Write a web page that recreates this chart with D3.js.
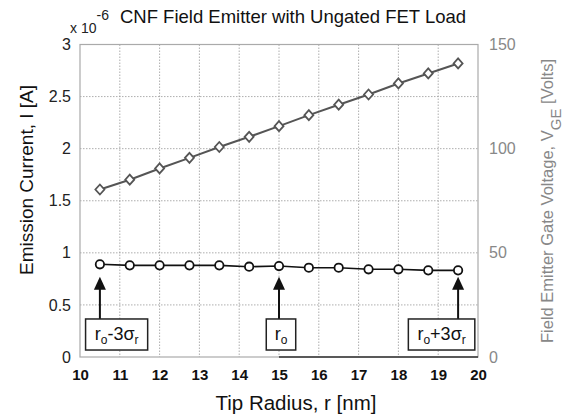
<!DOCTYPE html>
<html>
<head>
<meta charset="utf-8">
<script src="https://cdn.jsdelivr.net/npm/d3@7"></script>
<style>
  body { margin: 0; background: #fff; }
  text { font-family: "Liberation Sans", Arial, sans-serif; }
</style>
</head>
<body>
<div id="chart"></div>
<script>
// tip radius [nm]
var radius = [10.5, 11.25, 12, 12.75, 13.5, 14.25, 15, 15.75, 16.5, 17.25, 18, 18.75, 19.5];
// emission current [x 1e-6 A]
var current = [0.89, 0.88, 0.88, 0.88, 0.88, 0.867, 0.873, 0.857, 0.857, 0.842, 0.842, 0.832, 0.832];
// gate voltage [V]
var voltage = [80.4, 85.1, 90.5, 95.6, 100.8, 105.7, 110.8, 116.1, 121.1, 126, 131.3, 136.1, 140.9];

var xTicks = [10, 11, 12, 13, 14, 15, 16, 17, 18, 19, 20];
var yTicks = [0, 0.5, 1, 1.5, 2, 2.5, 3];
var y2Ticks = [0, 50, 100, 150];

// annotation boxes: arrow at r, box spans [r0, r1]
var notes = [
  { r: 10.5, r0: 10.14, r1: 11.7, parts: [["r", 0], ["o", 1], ["-3", 0], ["\u03c3", 0], ["r", 1]] },
  { r: 15, r0: 14.68, r1: 15.42, parts: [["r", 0], ["o", 1]] },
  { r: 19.5, r0: 18.25, r1: 19.92, parts: [["r", 0], ["o", 1], ["+3", 0], ["\u03c3", 0], ["r", 1]] }
];

var W = 569, H = 417;
var margin = { top: 44.5, right: 91, bottom: 60, left: 80 };
var width = W - margin.left - margin.right,
    height = H - margin.top - margin.bottom;

var svg = d3.select("#chart").append("svg")
    .attr("width", W).attr("height", H);
var g = svg.append("g")
    .attr("transform", "translate(" + margin.left + "," + margin.top + ")");

var x = d3.scaleLinear().domain([10, 20]).range([0, width]);
var y = d3.scaleLinear().domain([0, 3]).range([height, 0]);
var y2 = d3.scaleLinear().domain([0, 150]).range([height, 0]);

// grid
g.selectAll(".gx").data(xTicks.slice(1, -1)).enter().append("line")
    .attr("x1", d => x(d)).attr("x2", d => x(d))
    .attr("y1", 0).attr("y2", height)
    .attr("stroke", "#999").attr("stroke-width", 0.8)
    .attr("stroke-dasharray", "1.5,1.5");
g.selectAll(".gy").data(yTicks.slice(1, -1)).enter().append("line")
    .attr("x1", 0).attr("x2", width)
    .attr("y1", d => y(d)).attr("y2", d => y(d))
    .attr("stroke", "#999").attr("stroke-width", 0.8)
    .attr("stroke-dasharray", "1.5,1.5");

// box
g.append("rect").attr("width", width).attr("height", height)
    .attr("fill", "none").attr("stroke", "#aaa").attr("stroke-width", 1.2);
g.append("line")
    .attr("x1", x(15)).attr("x2", x(20))
    .attr("y1", height).attr("y2", height)
    .attr("stroke", "#333").attr("stroke-width", 1.5);

// axes
var xAxis = g.append("g").attr("transform", "translate(0," + height + ")")
    .call(d3.axisBottom(x).tickValues(xTicks).tickSize(0).tickPadding(12).tickFormat(d3.format("d")));
xAxis.select(".domain").remove();
xAxis.selectAll("text").attr("font-size", 15).attr("fill", "#111")
    .attr("font-weight", "bold").attr("stroke", "none");

var yAxis = g.append("g")
    .call(d3.axisLeft(y).tickValues(yTicks).tickSize(0).tickPadding(9).tickFormat(d3.format("")));
yAxis.select(".domain").remove();
yAxis.selectAll("text").attr("font-size", 16).attr("fill", "#222");

var y2Axis = g.append("g").attr("transform", "translate(" + width + ",0)")
    .call(d3.axisRight(y2).tickValues(y2Ticks).tickSize(0).tickPadding(11));
y2Axis.select(".domain").remove();
y2Axis.selectAll("text").attr("font-size", 16).attr("fill", "#888");

// voltage series (diamonds)
g.append("path").datum(radius)
    .attr("fill", "none").attr("stroke", "#555").attr("stroke-width", 2)
    .attr("d", d3.line().x(d => x(d)).y((d, i) => y2(voltage[i])));
g.selectAll(".dia").data(radius).enter().append("path")
    .attr("transform", (d, i) => "translate(" + x(d) + "," + y2(voltage[i]) + ")")
    .attr("d", "M0,-5L4.5,0L0,5L-4.5,0Z")
    .attr("fill", "#fff").attr("stroke", "#555").attr("stroke-width", 1.8);

// current series (circles)
g.append("path").datum(radius)
    .attr("fill", "none").attr("stroke", "#111").attr("stroke-width", 1.6)
    .attr("d", d3.line().x(d => x(d)).y((d, i) => y(current[i])));
g.selectAll(".circ").data(radius).enter().append("circle")
    .attr("cx", d => x(d)).attr("cy", (d, i) => y(current[i])).attr("r", 4.2)
    .attr("fill", "#fff").attr("stroke", "#111").attr("stroke-width", 1.8);

// annotations
var boxTop = 0.365, boxBot = 0.067, tip = 0.77;
notes.forEach(function (n) {
  g.append("line")
      .attr("x1", x(n.r)).attr("x2", x(n.r))
      .attr("y1", y(boxTop)).attr("y2", y(tip) + 10)
      .attr("stroke", "#111").attr("stroke-width", 2);
  g.append("path")
      .attr("transform", "translate(" + x(n.r) + "," + y(tip) + ")")
      .attr("d", "M0,0L6,13L-6,13Z").attr("fill", "#111");
  g.append("rect")
      .attr("x", x(n.r0)).attr("y", y(boxTop))
      .attr("width", x(n.r1) - x(n.r0)).attr("height", y(boxBot) - y(boxTop))
      .attr("fill", "#fff").attr("stroke", "#222").attr("stroke-width", 1.5);
  var t = g.append("text")
      .attr("x", (x(n.r0) + x(n.r1)) / 2).attr("y", (y(boxTop) + y(boxBot)) / 2 + 5)
      .attr("text-anchor", "middle").attr("font-size", 18).attr("fill", "#111");
  var dy = 0;
  n.parts.forEach(function (p) {
    var s = t.append("tspan").text(p[0]);
    var want = p[1] ? 4 : 0;
    if (p[1]) s.attr("font-size", 12);
    s.attr("dy", want - dy);
    dy = want;
  });
});

// titles
svg.append("text").attr("x", 293).attr("y", 23)
    .attr("text-anchor", "middle").attr("font-size", 18.5).attr("fill", "#111")
    .text("CNF Field Emitter with Ungated FET Load");
var ex = svg.append("text").attr("x", 70).attr("y", 33).attr("font-size", 14).attr("fill", "#222");
ex.append("tspan").text("x 10");
ex.append("tspan").attr("dy", -13).attr("font-size", 14).text("-6");

svg.append("text")
    .attr("x", 296).attr("y", 410)
    .attr("text-anchor", "middle").attr("font-size", 20.5).attr("fill", "#111")
    .text("Tip Radius, r [nm]");

svg.append("text")
    .attr("transform", "translate(33,180) rotate(-90)")
    .attr("text-anchor", "middle").attr("font-size", 19).attr("fill", "#111")
    .text("Emission Current, I [A]");

var rt = svg.append("text")
    .attr("transform", "translate(553,201) rotate(-90)")
    .attr("text-anchor", "middle").attr("font-size", 16.5).attr("fill", "#888");
rt.append("tspan").text("Field Emitter Gate Voltage, V");
rt.append("tspan").attr("dy", 8).attr("font-size", 15).text("GE");
rt.append("tspan").attr("dy", -8).text("  [Volts]");
</script>
</body>
</html>
